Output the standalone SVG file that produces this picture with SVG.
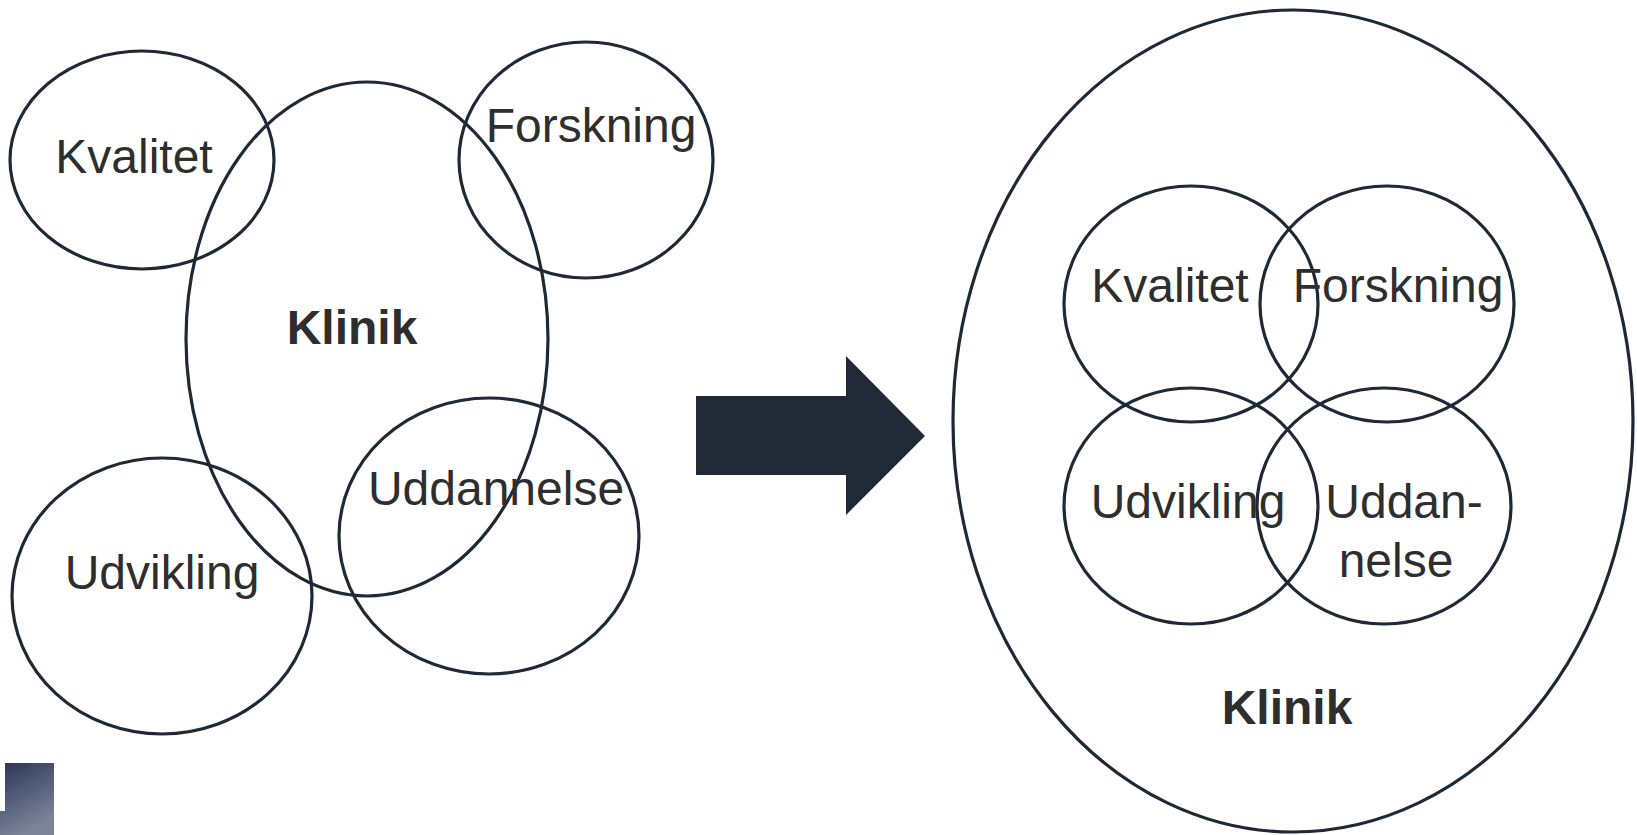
<svg xmlns="http://www.w3.org/2000/svg" width="1637" height="835" viewBox="0 0 1637 835">
<defs>
<style>
.c{fill:none;stroke:#1f2836;stroke-width:3.2}
.t{font-family:"Liberation Sans",Arial,sans-serif;font-size:48px;fill:#2e2e2e;text-anchor:middle}
.b{font-weight:bold}
</style>
<linearGradient id="g" x1="0" y1="0" x2="0.4" y2="1">
<stop offset="0" stop-color="#2a3558"/>
<stop offset="1" stop-color="#7d8498"/>
</linearGradient>
</defs>
<rect width="1637" height="835" fill="#ffffff"/>
<g id="left-klinik"><ellipse class="c" cx="367" cy="339" rx="181" ry="257"/><text class="t b" x="352" y="344">Klinik</text></g>
<g id="left-kvalitet"><ellipse class="c" cx="142" cy="160" rx="132" ry="109"/><text class="t" x="134" y="173">Kvalitet</text></g>
<g id="left-forskning"><ellipse class="c" cx="586" cy="160" rx="127" ry="118"/><text class="t" x="591" y="142">Forskning</text></g>
<g id="left-udvikling"><ellipse class="c" cx="162" cy="596" rx="150" ry="138"/><text class="t" x="162" y="589">Udvikling</text></g>
<g id="left-uddannelse"><ellipse class="c" cx="489" cy="536" rx="150" ry="138"/><text class="t" x="496" y="505">Uddannelse</text></g>
<g id="connectors"><polygon points="696,396 846,396 846,356 925,436 846,515 846,475 696,475" fill="#202a36"/></g>
<g id="right-klinik"><ellipse class="c" cx="1293" cy="421" rx="340" ry="411"/><text class="t b" x="1287" y="724">Klinik</text></g>
<g id="right-kvalitet"><ellipse class="c" cx="1191" cy="304" rx="127" ry="118"/><text class="t" x="1170" y="302">Kvalitet</text></g>
<g id="right-forskning"><ellipse class="c" cx="1387" cy="304" rx="127" ry="118"/><text class="t" x="1398" y="302">Forskning</text></g>
<g id="right-udvikling"><ellipse class="c" cx="1191" cy="506" rx="127" ry="118"/><text class="t" x="1188" y="518">Udvikling</text></g>
<g id="right-uddannelse"><ellipse class="c" cx="1384" cy="506" rx="127" ry="118"/><text class="t" x="1404" y="518">Uddan-</text><text class="t" x="1396" y="577">nelse</text></g>
<g id="logo"><polygon points="5,763 54,763 54,835 0,835 0,811 5,811" fill="url(#g)"/></g>
</svg>
